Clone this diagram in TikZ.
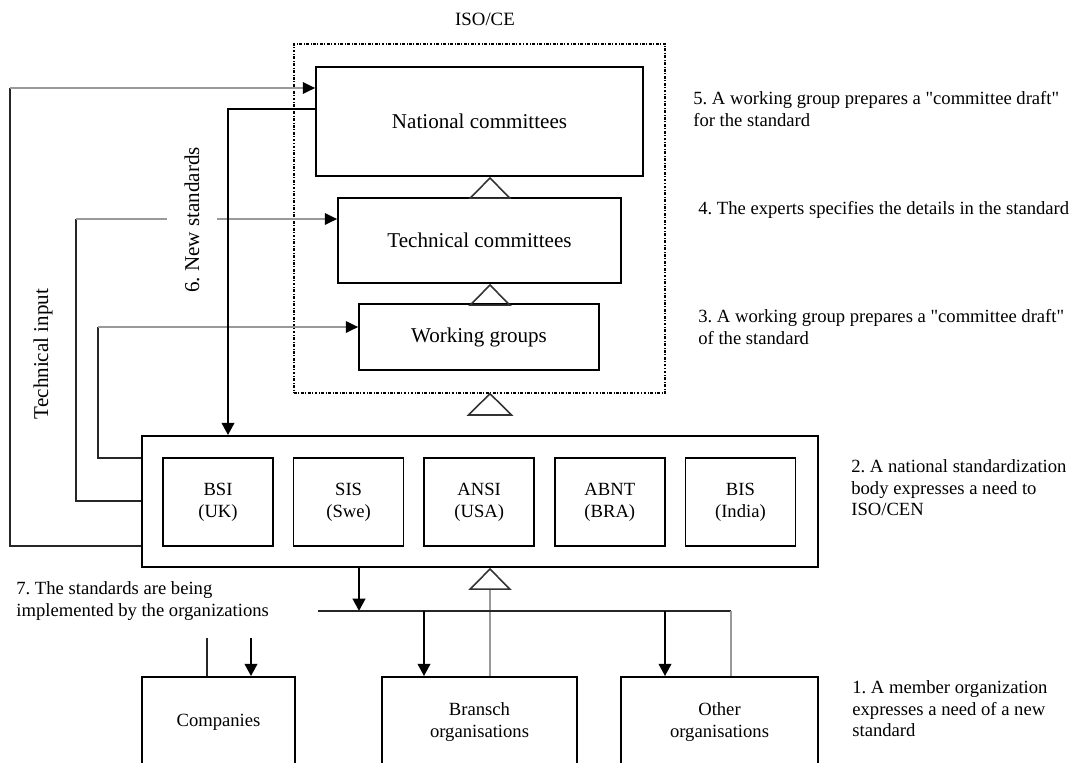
\documentclass[tikz,border=0pt]{standalone}
\usepackage{fontspec}
\setmainfont{Liberation Serif}
\usetikzlibrary{arrows.meta}
\frenchspacing

\tikzset{
  box/.style={draw, line width=1pt, inner sep=0pt, font=\fontsize{12}{14}\selectfont},
  smallbox/.style={draw, line width=1pt, inner sep=0pt, align=center,
    minimum width=2.2cm, minimum height=1.76cm, font=\fontsize{10.6}{12.4}\selectfont},
  orgbox/.style={draw, line width=1pt, inner sep=0pt, align=center,
    minimum height=1.8cm, font=\fontsize{10.6}{12.4}\selectfont},
  isobox/.style={draw, line width=0.8pt, dash pattern=on 1.6pt off 0.9pt on 0.5pt off 0.9pt},
  note/.style={anchor=west, align=left, inner sep=0pt, font=\fontsize{10.6}{12.2}\selectfont},
  thinline/.style={draw, line width=0.8pt, black!85},
  greyline/.style={draw, line width=1pt, black!40},
  greyarrow/.style={greyline, -{Triangle[length=7pt, width=6.5pt, black]}},
  thickarrow/.style={draw, line width=1.6pt, -{Triangle[length=7pt, width=7pt]}},
  opentri/.style={-{Triangle[open, length=0.44cm, width=0.86cm, line width=0.9pt, black!80]}},
}

\begin{document}
\begin{tikzpicture}[x=0.02cm, y=-0.02cm]
  \useasboundingbox (0,0) rectangle (1071,762);

  % ISO/CEN part
  \node[isobox, minimum width=7.42cm, minimum height=6.98cm] (iso) at (479.5,218.5) {};
  \node[font=\fontsize{10.7}{12}\selectfont] (isolabel) at (485,19) {ISO/CE};
  \node[box, minimum width=6.54cm, minimum height=2.18cm] (nc) at (479.5,121.5) {National committees};
  \node[box, minimum width=5.66cm, minimum height=1.7cm] (tc) at (479.5,240.5) {Technical committees};
  \node[box, minimum width=4.8cm, minimum height=1.32cm] (wg) at (479,337) {Working groups};

  % national bodies
  \node[box, minimum width=13.52cm, minimum height=2.62cm] (nb) at (480,501.5) {};
  \node[smallbox] (bsi) at (218,502) {BSI\\(UK)};
  \node[smallbox] (sis) at (348.6,502) {SIS\\(Swe)};
  \node[smallbox] (ansi) at (479.2,502) {ANSI\\(USA)};
  \node[smallbox] (abnt) at (609.8,502) {ABNT\\(BRA)};
  \node[smallbox] (bis) at (740.4,502) {BIS\\(India)};

  % member organisations
  \node[orgbox, minimum width=3.06cm] (com) at (218.5,722) {Companies};
  \node[orgbox, minimum width=3.9cm] (bra) at (479.5,722) {Bransch\\organisations};
  \node[orgbox, minimum width=3.94cm] (oth) at (719.5,722) {Other\\organisations};

  % bends
  \coordinate (mid) at (490,567);
  \coordinate (out1) at (10,546);
  \coordinate (in1) at (10,88);
  \coordinate (out2) at (76,501);
  \coordinate (in2) at (76,219);
  \coordinate (out3) at (98,458);
  \coordinate (in3) at (98,327);
  \coordinate (ns) at (228,109);
  \coordinate (bus) at (318,611);
  \coordinate (busend) at (731,611);
  \coordinate (down) at (359,611);
  \coordinate (tobra) at (424,611);
  \coordinate (tooth) at (665,611);
  \coordinate (coa) at (207,638);
  \coordinate (cob) at (251,638);

  % upward needs
  \draw[opentri] (tc.north -| mid) -- (nc.south -| mid);
  \draw[opentri] (wg.north -| mid) -- (tc.south -| mid);
  \draw[line width=0.9pt, black!80] (iso.south -| mid) -- (468.5,415) -- (511.5,415) -- cycle;
  \draw[greyline, opentri] (bra.north -| mid) -- (nb.south -| mid);

  % technical input
  \draw[thinline] (nb.west |- out1) -- (out1) -- (in1);
  \draw[greyarrow] (in1) -- (nc.west |- in1);
  \draw[thinline] (nb.west |- out2) -- (out2) -- (in2);
  \draw[greyarrow] (in2) -- (tc.west |- in2);
  \draw[thinline] (nb.west |- out3) -- (out3) -- (in3);
  \draw[greyarrow] (in3) -- (wg.west |- in3);

  % new standards
  \draw[thickarrow] (nc.west |- ns) -- (ns) -- (ns |- nb.north);

  % implementation
  \draw[thickarrow] (nb.south -| down) -- (down);
  \draw[thinline] (bus) -- (busend);
  \draw[greyline, line width=0.8pt] (busend) -- (busend |- oth.north);
  \draw[thickarrow] (tobra) -- (tobra |- bra.north);
  \draw[thickarrow] (tooth) -- (tooth |- oth.north);
  \draw[thinline] (coa) -- (coa |- com.north);
  \draw[thickarrow] (cob) -- (cob |- com.north);

  % labels
  \node[rotate=90, font=\fontsize{12}{14}\selectfont] (tilabel) at (43,354) {Technical input};
  \node[rotate=90, fill=white, inner xsep=1pt, inner ysep=10pt, font=\fontsize{12}{14}\selectfont] (nslabel) at (192,220) {6. New standards};

  \node[note] (n5) at (693,109) {5. A working group prepares a \textquotedbl committee draft\textquotedbl\\for the standard};
  \node[note] (n4) at (698,210) {4. The experts specifies the details in the standard};
  \node[note] (n3) at (698,327) {3. A working group prepares a \textquotedbl committee draft\textquotedbl\\of the standard};
  \node[note] (n2) at (851,488) {2. A national standardization\\body expresses a need to\\ISO/CEN};
  \node[note] (n1) at (852,709) {1. A member organization\\expresses a need of a new\\standard};
  \node[note] (n7) at (16,601) {7. The standards are being\\implemented by the organizations};
\end{tikzpicture}
\end{document}
